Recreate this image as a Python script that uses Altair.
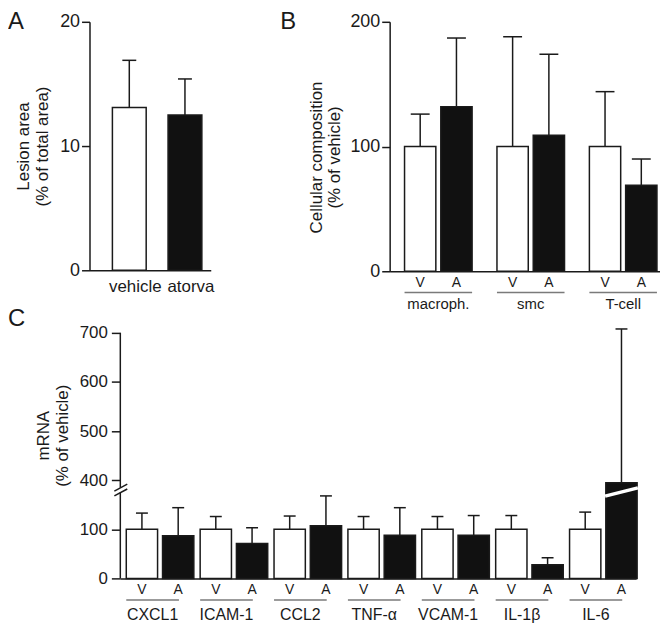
import altair as alt
import pandas as pd

FONT = "Liberation Sans"
INK = "#1a1a1a"
GREY = "#7a7a7a"

# ---------------- data ----------------
# Panel A: lesion area (% of total area)
a_groups = ["vehicle", "atorva"]
a_mean = [13.1, 12.5]
a_sem = [3.8, 2.9]

# Panel B: cellular composition (% of vehicle)
b_groups = ["macroph.", "smc", "T-cell"]
b_vehicle = [100, 100, 100]
b_vehicle_sem = [26, 88, 44]
b_atorva = [132, 109, 69]
b_atorva_sem = [55, 65, 21]

# Panel C: mRNA (% of vehicle)
c_genes = ["CXCL1", "ICAM-1", "CCL2", "TNF-α", "VCAM-1", "IL-1β", "IL-6"]
c_vehicle = [100, 100, 100, 100, 100, 100, 100]
c_vehicle_sem = [33, 26, 27, 26, 26, 28, 35]
c_atorva = [87, 71, 107, 88, 88, 28, 395]
c_atorva_sem = [57, 32, 61, 56, 40, 14, 313]

conds = ["V", "A"]
c_tick_values = [0, 100, 200, 300, 400, 500]   # display units
BREAK_SHIFT = 200          # values above the break are drawn 200 lower
BREAK_LOW, BREAK_HIGH = 175, 185


def disp(v):
    return v if v < 300 else v - BREAK_SHIFT


# ---------------- tables ----------------
a_df = pd.DataFrame({
    "group": a_groups,
    "cond": conds,
    "mean": a_mean,
    "top": [m + s for m, s in zip(a_mean, a_sem)],
})

b_rows = []
for i, g in enumerate(b_groups):
    b_rows.append({"group": g, "cond": "V", "mean": b_vehicle[i], "top": b_vehicle[i] + b_vehicle_sem[i]})
    b_rows.append({"group": g, "cond": "A", "mean": b_atorva[i], "top": b_atorva[i] + b_atorva_sem[i]})
b_df = pd.DataFrame(b_rows)

c_rows = []
for i, g in enumerate(c_genes):
    c_rows.append({"group": g, "cond": "V", "mean": disp(c_vehicle[i]),
                   "top": disp(c_vehicle[i] + c_vehicle_sem[i])})
    c_rows.append({"group": g, "cond": "A", "mean": disp(c_atorva[i]),
                   "top": disp(c_atorva[i] + c_atorva_sem[i])})
c_df = pd.DataFrame(c_rows)

fill_scale = alt.Scale(domain=conds, range=["#ffffff", "#111111"])


def y_axis(values, title, tick=8, title_pad=8, label_pad=2, label_size=17, **kw):
    return alt.Axis(values=values, title=title, grid=False, tickSize=tick,
                    tickWidth=1.5, tickColor=INK, domainWidth=1.5, domainColor=INK,
                    labelFontSize=label_size, labelColor=INK, labelPadding=label_pad,
                    titleFontSize=17, titleFontWeight="normal", titleColor=INK,
                    titleLineHeight=19, titlePadding=title_pad, **kw)


def x_axis(font_size, pad, offset=0):
    return alt.Axis(title=None, ticks=False, labelAngle=0, labelFontSize=font_size,
                    labelColor=INK, labelPadding=pad, labelOffset=offset,
                    domainWidth=1.5, domainColor=INK)


def panel(df, groups, xscale, xaxis, yscale, yaxis, cap, offset_scale=None):
    base = alt.Chart(df)
    enc = {"x": alt.X("group:N", sort=groups, scale=xscale, axis=xaxis)}
    if offset_scale is not None:
        enc["xOffset"] = alt.XOffset("cond:N", sort=conds, scale=offset_scale)
    y_mean = alt.Y("mean:Q", scale=yscale, axis=yaxis)
    y_top = alt.Y("top:Q", scale=yscale, axis=yaxis)
    err = base.mark_rule(color=INK, strokeWidth=1.5).encode(y=y_mean, y2="top:Q", **enc)
    caps = base.mark_tick(color=INK, thickness=1.5, size=cap, opacity=1).encode(y=y_top, **enc)
    bars = base.mark_bar(stroke=INK, strokeWidth=1.5).encode(
        y=y_mean, fill=alt.Fill("cond:N", scale=fill_scale, legend=None), **enc)
    return [err, caps, bars], enc


def letter(ch, dx, dy):
    return alt.Chart(pd.DataFrame({"t": [ch]})).mark_text(
        fontSize=24, align="left", baseline="top", color=INK, font=FONT
    ).encode(x=alt.value(dx), y=alt.value(dy), text="t:N")


def va_layers(df, groups, enc, h, label_y, line_y):
    va = alt.Chart(df).mark_text(fontSize=14, color=INK, baseline="middle").encode(
        y=alt.value(h + label_y), text="cond:N", **enc)
    gdf = pd.DataFrame({"group": groups})
    under = alt.Chart(gdf).mark_bar(color=GREY).encode(
        x=enc["x"], y=alt.value(h + line_y), y2=alt.value(h + line_y + 1.5))
    return [va, under]


# ---------------- panel A ----------------
A_W, A_H = 122, 250
a_x = alt.Scale(paddingInner=0.393, paddingOuter=0.2857, align=0.72)
a_y = alt.Scale(domain=[0, 20], nice=False)
a_layers, _ = panel(a_df, a_groups, a_x, x_axis(17, 8, 6), a_y,
                    y_axis([0, 10, 20], ["Lesion area", "(% of total area)"], label_size=18), 14)
chart_a = alt.layer(*a_layers, letter("A", -82, -12)).properties(width=A_W, height=A_H)

# ---------------- panel B ----------------
B_W, B_H = 272, 251
b_x = alt.Scale(paddingInner=0.269, paddingOuter=0.097, align=0.83)
b_off = alt.Scale(paddingInner=0.137, paddingOuter=0)
b_y = alt.Scale(domain=[0, 200], nice=False)
b_layers, b_enc = panel(b_df, b_groups, b_x, x_axis(15, 25), b_y,
                        y_axis([0, 100, 200], ["Cellular composition", "(% of vehicle)"],
                               title_pad=6, label_size=18, titleY=136),
                        19, b_off)
chart_b = alt.layer(*b_layers, *va_layers(b_df, b_groups, b_enc, B_H, 12, 20.5),
                    letter("B", -110, -12)).properties(width=B_W, height=B_H)

# ---------------- panel C ----------------
C_W, C_H = 519, 247
c_x = alt.Scale(paddingInner=0.287, paddingOuter=0.1345, align=0.3)
c_off = alt.Scale(paddingInner=0.14, paddingOuter=0)
c_y = alt.Scale(domain=[0, 500], nice=False)
c_yaxis = y_axis(c_tick_values, ["mRNA", "(% of vehicle)"], tick=9, title_pad=8, label_pad=4,
                 domain=False, titleY=103,
                 labelExpr=f"datum.value < 150 ? datum.value : datum.value + {BREAK_SHIFT}")
c_layers, c_enc = panel(c_df, c_genes, c_x, x_axis(16, 28), c_y, c_yaxis, 12, c_off)

axis_line = alt.Chart(pd.DataFrame({"y0": [0, BREAK_HIGH], "y1": [BREAK_LOW, 500]})).mark_rule(
    color=INK, strokeWidth=1.5).encode(x=alt.value(0), y=alt.Y("y0:Q", scale=c_y, axis=c_yaxis), y2="y1:Q")
axis_break = alt.Chart(pd.DataFrame({"y": [BREAK_LOW, BREAK_HIGH]})).mark_point(
    shape="M-1,0.54L1,-0.54", size=169, filled=False, stroke=INK, strokeWidth=1.5, opacity=1
).encode(x=alt.value(0.5), y=alt.Y("y:Q", scale=c_y, axis=c_yaxis))
bar_break = alt.Chart(pd.DataFrame({"group": ["IL-6"], "cond": ["A"], "y": [176]})).mark_point(
    shape="M-1,0.25L1,-0.25", size=1089, filled=False, stroke="white", strokeWidth=3.5, opacity=1
).encode(y=alt.Y("y:Q", scale=c_y, axis=c_yaxis), **c_enc)

chart_c = alt.layer(*c_layers, axis_line, axis_break, bar_break,
                    *va_layers(c_df, c_genes, c_enc, C_H, 12, 21),
                    letter("C", -113, -26)).properties(width=C_W, height=C_H)

spacer = alt.Chart(pd.DataFrame({"s": [0]})).mark_point(opacity=0).encode(
    x=alt.value(0), y=alt.value(0)).properties(width=1, height=1)

top = alt.hconcat(chart_a, chart_b, spacing=180, bounds="flush")
bottom = alt.hconcat(spacer, chart_c, spacing=30, bounds="flush")
# a nested flush concat reports no height of its own, so the row gap includes the top row's plot height
chart = alt.vconcat(top, bottom, spacing=62 + B_H, bounds="flush").properties(padding=0).configure(
    font=FONT, view=alt.ViewConfig(stroke=None))

chart.save("out.html", embed_options={"renderer": "svg", "actions": False})
